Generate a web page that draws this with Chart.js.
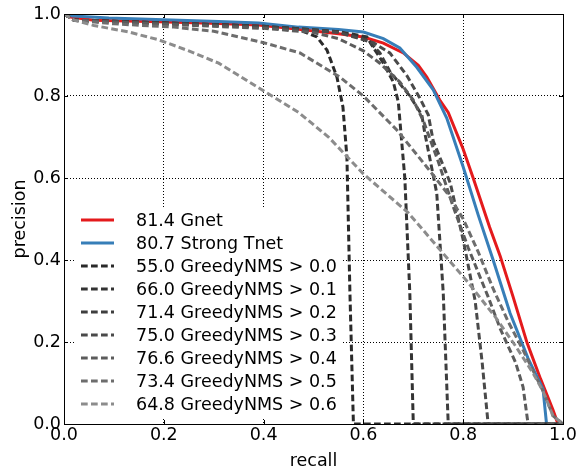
<!DOCTYPE html>
<html>
<head>
<meta charset="utf-8">
<script src="https://cdn.jsdelivr.net/npm/chart.js@4.4.1/dist/chart.umd.min.js"></script>
<style>
    html, body { margin: 0; padding: 0; background: #fff; }
    #wrap { width: 584px; height: 470px; position: relative; }
</style>
</head>
<body>
<div id="wrap"><canvas id="chart1"></canvas></div>
<script>
// tick values on both axes
const xTickValues = [0.0, 0.2, 0.4, 0.6, 0.8, 1.0];
const yTickValues = [0.0, 0.2, 0.4, 0.6, 0.8, 1.0];

// series labels (legend order)
const seriesLabels = [
    "81.4 Gnet",
    "80.7 Strong Tnet",
    "55.0 GreedyNMS > 0.0",
    "66.0 GreedyNMS > 0.1",
    "71.4 GreedyNMS > 0.2",
    "75.0 GreedyNMS > 0.3",
    "76.6 GreedyNMS > 0.4",
    "73.4 GreedyNMS > 0.5",
    "64.8 GreedyNMS > 0.6"
];

// precision / recall curves
const gnetRecall    = [0, 0.01, 0.06, 0.19, 0.31, 0.39, 0.47, 0.55, 0.6, 0.64, 0.68, 0.71, 0.727, 0.753, 0.77, 0.8, 0.82, 0.853, 0.874, 0.9, 0.928, 0.955, 0.98, 0.99];
const gnetPrecision = [1, 0.993, 0.985, 0.981, 0.977, 0.973, 0.963, 0.952, 0.944, 0.929, 0.905, 0.875, 0.846, 0.79, 0.76, 0.67, 0.6, 0.48, 0.41, 0.31, 0.198, 0.11, 0.034, 0];

const tnetRecall    = [0, 0.01, 0.09, 0.2, 0.31, 0.39, 0.47, 0.55, 0.6, 0.64, 0.673, 0.707, 0.74, 0.767, 0.8, 0.83, 0.86, 0.894, 0.93, 0.95, 0.96, 0.967];
const tnetPrecision = [1, 0.996, 0.99, 0.986, 0.982, 0.978, 0.968, 0.962, 0.956, 0.94, 0.917, 0.87, 0.815, 0.746, 0.627, 0.51, 0.4, 0.27, 0.16, 0.11, 0.085, 0];

const nms00Recall    = [0, 0.02, 0.2, 0.35, 0.47, 0.507, 0.527, 0.547, 0.559, 0.567, 0.573, 0.58, 1.0];
const nms00Precision = [1, 0.985, 0.978, 0.972, 0.962, 0.944, 0.912, 0.846, 0.773, 0.65, 0.32, 0, 0];

const nms01Recall    = [0, 0.02, 0.2, 0.4, 0.55, 0.59, 0.607, 0.617, 0.64, 0.66, 0.67, 0.683, 0.693, 0.7, 1.0];
const nms01Precision = [1, 0.985, 0.978, 0.97, 0.957, 0.948, 0.944, 0.924, 0.88, 0.834, 0.785, 0.6, 0.32, 0, 0];

const nms02Recall    = [0, 0.02, 0.2, 0.4, 0.55, 0.61, 0.633, 0.653, 0.693, 0.717, 0.723, 0.747, 0.76, 0.77, 1.0];
const nms02Precision = [1, 0.985, 0.978, 0.97, 0.957, 0.935, 0.905, 0.86, 0.8, 0.754, 0.71, 0.563, 0.32, 0, 0];

const nms03Recall    = [0, 0.02, 0.2, 0.4, 0.55, 0.62, 0.653, 0.687, 0.713, 0.73, 0.74, 0.774, 0.8, 0.824, 0.838, 0.85, 1.0];
const nms03Precision = [1, 0.985, 0.977, 0.968, 0.955, 0.93, 0.905, 0.85, 0.795, 0.754, 0.69, 0.588, 0.449, 0.3, 0.15, 0, 0];

const nms04Recall    = [0, 0.02, 0.2, 0.4, 0.5, 0.55, 0.6, 0.633, 0.673, 0.7, 0.72, 0.75, 0.78, 0.81, 0.85, 0.875, 0.905, 0.92, 0.93, 1.0];
const nms04Precision = [1, 0.985, 0.975, 0.965, 0.955, 0.94, 0.91, 0.88, 0.834, 0.79, 0.74, 0.64, 0.53, 0.43, 0.31, 0.23, 0.15, 0.09, 0, 0];

const nms05Recall    = [0, 0.02, 0.1, 0.22, 0.3, 0.4, 0.473, 0.553, 0.6, 0.667, 0.727, 0.77, 0.8, 0.83, 0.86, 0.89, 0.92, 0.94, 0.96, 0.98, 1.0];
const nms05Precision = [1, 0.985, 0.976, 0.968, 0.958, 0.93, 0.905, 0.846, 0.8, 0.717, 0.627, 0.56, 0.5, 0.42, 0.33, 0.25, 0.18, 0.13, 0.08, 0.02, 0];

const nms06Recall    = [0, 0.02, 0.06, 0.13, 0.19, 0.25, 0.31, 0.39, 0.47, 0.53, 0.6, 0.69, 0.75, 0.81, 0.865, 0.905, 0.94, 0.96, 0.98, 1.0];
const nms06Precision = [1, 0.985, 0.972, 0.956, 0.937, 0.91, 0.88, 0.82, 0.76, 0.7, 0.61, 0.515, 0.43, 0.345, 0.26, 0.19, 0.124, 0.08, 0.02, 0];

const allRecall = [gnetRecall, tnetRecall, nms00Recall, nms01Recall, nms02Recall, nms03Recall, nms04Recall, nms05Recall, nms06Recall];
const allPrecision = [gnetPrecision, tnetPrecision, nms00Precision, nms01Precision, nms02Precision, nms03Precision, nms04Precision, nms05Precision, nms06Precision];

const lineColors = ["#e41a1c", "#377eb8", "#2a2a2a", "#333333", "#3e3e3e", "#4a4a4a", "#5c5c5c", "#6d6d6d", "#8c8c8c"];
const FONT = "DejaVu Sans";
const FONT_SIZE = 17.5;

const datasets = seriesLabels.map((label, i) => ({
    label: label,
    data: allRecall[i].map((r, j) => ({ x: r, y: allPrecision[i][j] })),
    borderColor: lineColors[i],
    backgroundColor: lineColors[i],
    borderWidth: 3,
    borderDash: i < 2 ? [] : [6.7, 3.3],
    pointRadius: 0,
    tension: 0,
    fill: false,
    order: seriesLabels.length - i
}));

// frame, inward ticks and in-plot legend, drawn like the matplotlib original
const framePlugin = {
    id: "framePlugin",
    afterDraw(chart) {
        const ctx = chart.ctx;
        const area = chart.chartArea;
        const xs = chart.scales.x, ys = chart.scales.y;

        // legend box
        const boxL = area.left + 11, boxT = area.top + 194;
        const boxR = area.left + 279, boxB = area.bottom - 5;
        ctx.save();
        ctx.fillStyle = "#fff";
        ctx.fillRect(boxL, boxT, boxR - boxL, boxB - boxT);
        ctx.font = FONT_SIZE + "px '" + FONT + "'";
        ctx.textBaseline = "middle";
        ctx.textAlign = "left";
        chart.data.datasets.forEach((ds, i) => {
            const y = area.top + 206 + i * 23;
            ctx.strokeStyle = ds.borderColor;
            ctx.lineWidth = ds.borderWidth;
            ctx.setLineDash(ds.borderDash);
            ctx.beginPath();
            ctx.moveTo(area.left + 17, y);
            ctx.lineTo(area.left + 50, y);
            ctx.stroke();
            ctx.setLineDash([]);
            ctx.fillStyle = "#000";
            ctx.fillText(ds.label, area.left + 72, y + 1);
        });

        // inward tick marks
        ctx.strokeStyle = "#000";
        ctx.lineWidth = 1;
        ctx.beginPath();
        xTickValues.forEach(v => {
            const px = Math.round(xs.getPixelForValue(v)) + 0.5;
            ctx.moveTo(px, area.bottom); ctx.lineTo(px, area.bottom - 4);
            ctx.moveTo(px, area.top); ctx.lineTo(px, area.top + 4);
        });
        yTickValues.forEach(v => {
            const py = Math.round(ys.getPixelForValue(v)) + 0.5;
            ctx.moveTo(area.left, py); ctx.lineTo(area.left + 4, py);
            ctx.moveTo(area.right, py); ctx.lineTo(area.right - 4, py);
        });
        ctx.stroke();

        // axes frame
        ctx.strokeRect(Math.round(area.left) + 0.5, Math.round(area.top) + 0.5,
            Math.round(area.right - area.left), Math.round(area.bottom - area.top));
        ctx.restore();
    }
};

const ctx = document.getElementById("chart1").getContext("2d");
new Chart(ctx, {
    type: "line",
    data: { datasets: datasets },
    plugins: [framePlugin],
    options: {
        responsive: true,
        maintainAspectRatio: false,
        animation: false,
        layout: { padding: { top: 14, right: 21, left: 0, bottom: 0 } },
        plugins: {
            legend: { display: false },
            tooltip: { enabled: false }
        },
        scales: {
            x: {
                type: "linear",
                min: 0,
                max: 1,
                afterBuildTicks: s => { s.ticks = xTickValues.map(v => ({ value: v })); },
                afterFit: s => { s.height = 46; },
                ticks: {
                    color: "#000",
                    font: { family: FONT, size: FONT_SIZE },
                    padding: 1,
                    maxRotation: 0,
                    autoSkip: false,
                    callback: v => v.toFixed(1)
                },
                grid: { color: "#000", lineWidth: 1, drawTicks: false },
                border: { display: false, dash: [1, 2] },
                title: {
                    display: true,
                    text: "recall",
                    color: "#000",
                    font: { family: FONT, size: FONT_SIZE },
                    padding: { top: 0, bottom: -2 }
                }
            },
            y: {
                type: "linear",
                min: 0,
                max: 1,
                afterBuildTicks: s => { s.ticks = yTickValues.map(v => ({ value: v })); },
                afterFit: s => { s.width = 64; },
                ticks: {
                    color: "#000",
                    font: { family: FONT, size: FONT_SIZE },
                    padding: 3,
                    autoSkip: false,
                    callback: v => v.toFixed(1)
                },
                grid: { color: "#000", lineWidth: 1, drawTicks: false },
                border: { display: false, dash: [1, 2] },
                title: {
                    display: true,
                    text: "precision",
                    color: "#000",
                    font: { family: FONT, size: FONT_SIZE },
                    padding: { top: 10, bottom: 0 }
                }
            }
        }
    }
});
</script>
</body>
</html>
